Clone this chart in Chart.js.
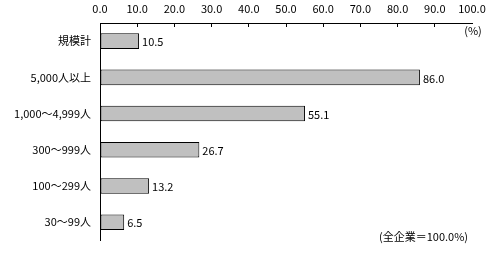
<!DOCTYPE html>
<html>
<head>
<meta charset="utf-8">
<script src="https://cdn.jsdelivr.net/npm/chart.js@4/dist/chart.umd.min.js"></script>
<style>
  html, body { margin: 0; padding: 0; background: #fff; }
  #wrap { width: 502px; height: 256px; }
</style>
</head>
<body>
<div id="wrap"><canvas id="c" width="502" height="256"></canvas></div>
<script>
const categories = ["規模計", "5,000人以上", "1,000～4,999人", "300～999人", "100～299人", "30～99人"];
const values = [10.5, 86.0, 55.1, 26.7, 13.2, 6.5];
const xTicks = [0, 10, 20, 30, 40, 50, 60, 70, 80, 90, 100];
const unitLabel = "(%)";
const noteLabel = "(全企業＝100.0%)";

const FONT = "'Noto Sans CJK JP', 'DejaVu Sans', sans-serif";

const extras = {
  id: 'extras',
  afterDatasetsDraw(chart) {
    const ctx = chart.ctx;
    const meta = chart.getDatasetMeta(0);
    ctx.save();
    ctx.font = "11px " + FONT;
    ctx.fillStyle = "#000";
    ctx.textBaseline = "middle";
    ctx.textAlign = "left";
    meta.data.forEach((el, i) => {
      ctx.fillText(values[i].toFixed(1), el.x + 3, el.y + 1);
    });
    const ca = chart.chartArea;
    ctx.textAlign = "center";
    ctx.fillText(unitLabel, ca.right + 1, ca.top + 8);
    ctx.textAlign = "right";
    ctx.fillText(noteLabel, ca.right - 4, ca.bottom - 4);
    ctx.restore();
  }
};

new Chart(document.getElementById('c'), {
  type: 'bar',
  data: {
    labels: categories,
    datasets: [{
      data: values,
      backgroundColor: '#c0c0c0',
      borderColor: '#000',
      borderWidth: 1,
      borderSkipped: false,
      barPercentage: 0.43,
      categoryPercentage: 1.0
    }]
  },
  options: {
    indexAxis: 'y',
    responsive: false,
    animation: false,
    layout: { padding: { left: 0, right: 30, top: 0, bottom: 8 } },
    plugins: { legend: { display: false }, tooltip: { enabled: false } },
    scales: {
      x: {
        position: 'top',
        min: 0, max: 100,
        afterFit(s) { s.height = 23; },
        afterBuildTicks(s) { s.ticks = xTicks.map(v => ({ value: v })); },
        ticks: {
          padding: 12,
          color: '#000',
          font: { family: FONT, size: 11 },
          maxRotation: 0,
          callback: v => Number(v).toFixed(1)
        },
        grid: {
          drawOnChartArea: false,
          drawTicks: true,
          tickLength: -4,
          color: c => (c.tick && c.tick.value === 100) ? 'rgba(0,0,0,0)' : '#000'
        },
        border: { display: true, color: '#000', width: 1 }
      },
      y: {
        afterFit(s) { s.width = 100; },
        ticks: {
          padding: 9,
          color: '#000',
          font: { family: FONT, size: 11 }
        },
        grid: { display: false, drawTicks: false },
        border: { display: true, color: '#000', width: 1 }
      }
    }
  },
  plugins: [extras]
});
</script>
</body>
</html>
